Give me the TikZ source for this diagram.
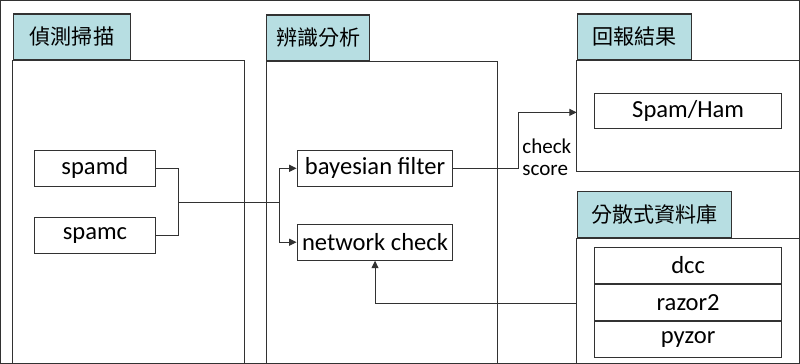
\documentclass[tikz,border=0pt]{standalone}
\usepackage{fontspec}
\setmainfont{Carlito}
\newfontfamily\cjk{Noto Sans CJK TC}
\usepackage{tikz}
\usetikzlibrary{arrows.meta, positioning}
\definecolor{tabcol}{RGB}{183,222,226}
\definecolor{linecol}{RGB}{50,50,50}

\begin{document}
\begin{tikzpicture}[
    x=0.2mm, y=-0.2mm,
    line width=0.6pt,
    every path/.style={draw=linecol},
    tab/.style={
      draw=linecol,
      fill=tabcol,
      anchor=south west,
      minimum height=9.2mm,
      inner sep=0pt,
      font=\cjk\fontsize{12}{14}\selectfont
    },
    box/.style={
      draw=linecol,
      minimum height=7.2mm,
      inner sep=0pt,
      font=\fontsize{14}{16}\selectfont
    },
    flow/.style={-{Triangle[length=1.5mm,width=1.4mm]}}
  ]
    \useasboundingbox (0,0) rectangle (800,363);
    \draw (12,363) -- (12,60) -- (244,60) -- (244,363);
    \draw (266,363) -- (266,61) -- (498,61) -- (498,363);
    \draw (800,60) -- (577,60) -- (577,171) -- (800,171);
    \draw (800,238) -- (577,238) -- (577,363);
    \node[tab, minimum width=23.6mm] (scan) at (12,60) {偵測掃描};
    \node[tab, minimum width=20.6mm] (analyse) at (266,61) {辨識分析};
    \node[tab, minimum width=22.8mm] (report) at (577,60) {回報結果};
    \node[tab, minimum width=30.8mm] (dbase) at (577,238) {分散式資料庫};
    \node[box, minimum width=24.2mm] (spamd) at (94.5,168) {spamd};
    \node[box, minimum width=24.2mm] (spamc) at (94.5,235) {spamc};
    \node[box, minimum width=31.2mm] (bayes) at (375,168) {bayesian filter};
    \node[box, minimum width=31.2mm] (netcheck) at (375,242) {network check};
    \node[box, minimum width=37.4mm, minimum height=7mm] (spamham) at (688.5,110.5) {Spam/Ham};
    \node[box, minimum width=37.4mm] (dcc) at (688.5,265) {dcc};
    \node[box, minimum width=37.4mm, below=0pt of dcc] (razor) {razor2};
    \node[box, minimum width=37.4mm, below=0pt of razor] (pyzor) {pyzor};
    \node[font=\fontsize{12}{12.5}\selectfont, align=left, inner sep=0pt] (score) at (547,157) {check\\score};
    \coordinate (join) at (178,202);
    \coordinate (split) at (279,202);
    \coordinate (bend) at (519,112);
    \coordinate (resin) at (577,112);
    \coordinate (dbout) at (577,303);
    \draw (spamd.east) -| (join);
    \draw (spamc.east) -| (join);
    \draw (join) -- (split);
    \draw[flow] (split) |- (bayes.west);
    \draw[flow] (split) |- (netcheck.west);
    \draw[flow] (bayes.east) -| (bend) -- (resin);
    \draw[flow] (dbout) -| (netcheck.south);
  \end{tikzpicture}
\end{document}
